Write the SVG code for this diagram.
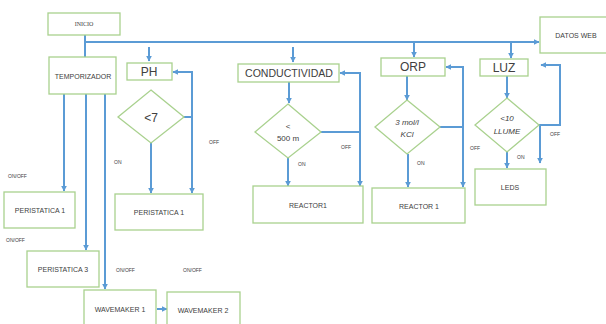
<svg xmlns="http://www.w3.org/2000/svg" width="606" height="324" viewBox="0 0 606 324">
<style>
.box{fill:#fff;stroke:#a9d18e;stroke-width:1.3}
.c{fill:none;stroke:#5b9bd5;stroke-width:2}
.t{font-family:"Liberation Sans",Arial,sans-serif;fill:#404040;text-anchor:middle;dominant-baseline:central}
.s{font-size:7px}
.l{font-size:12px}
.lab{font-family:"Liberation Sans",Arial,sans-serif;fill:#404040;font-size:5px;dominant-baseline:central}
.i{font-style:italic}
</style>
<defs>
<marker id="a" viewBox="0 0 10 10" refX="9" refY="5" markerWidth="3" markerHeight="3" orient="auto" markerUnits="strokeWidth">
<path d="M0,0L10,5L0,10z" fill="#5b9bd5"/>
</marker>
</defs>
<rect width="606" height="324" fill="#fff"/>
<g id="connectors">
<path class="c" d="M85,35V57M85,42H539" marker-end="url(#a)"/>
<path class="c" d="M149,47V61" marker-end="url(#a)"/>
<path class="c" d="M293,47V62" marker-end="url(#a)"/>
<path class="c" d="M414,42V57" marker-end="url(#a)"/>
<path class="c" d="M511,42V58" marker-end="url(#a)"/>
<path class="c" d="M64,94V191" marker-end="url(#a)"/>
<path class="c" d="M86,94V250" marker-end="url(#a)"/>
<path class="c" d="M105,94V289" marker-end="url(#a)"/>
<path class="c" d="M157,309H167" marker-end="url(#a)"/>
<path class="c" d="M151,143V193" marker-end="url(#a)"/>
<path class="c" d="M184,117H192" />
<path class="c" d="M192,193V72H173" marker-end="url(#a)"/>
<path class="c" d="M192,118V193" marker-end="url(#a)"/>
<path class="c" d="M289,82V103" marker-end="url(#a)"/>
<path class="c" d="M288,158V186" marker-end="url(#a)"/>
<path class="c" d="M321,132H360"/>
<path class="c" d="M360,186V73H340" marker-end="url(#a)"/>
<path class="c" d="M360,130V186" marker-end="url(#a)"/>
<path class="c" d="M407,76V100" marker-end="url(#a)"/>
<path class="c" d="M408,154V187" marker-end="url(#a)"/>
<path class="c" d="M440,127H463"/>
<path class="c" d="M463,187V67H446" marker-end="url(#a)"/>
<path class="c" d="M463,125V187" marker-end="url(#a)"/>
<path class="c" d="M507,76V98" marker-end="url(#a)"/>
<path class="c" d="M507,152V168" marker-end="url(#a)"/>
<path class="c" d="M539,125H560V65H541" marker-end="url(#a)"/>
<path class="c" d="M540,125V163" marker-end="url(#a)"/>
</g>
<g id="inicio"><rect class="box" x="48" y="13" width="72" height="22"/><text class="t" x="84" y="24" style="font-family:'Liberation Serif',serif;font-size:6px">INICIO</text></g>
<g id="datosweb"><rect class="box" x="540" y="17" width="70" height="36"/><text class="t s" x="576" y="35">DATOS WEB</text></g>
<g id="temporizador"><rect class="box" x="49" y="57" width="67" height="37"/><text class="t s" x="83" y="76">TEMPORIZADOR</text></g>
<g id="ph"><rect class="box" x="127" y="63" width="45" height="17"/><text class="t l" x="149" y="72">PH</text></g>
<g id="d-ph"><path class="box" d="M151,90L184,117L151,143L118,117Z"/><text class="t l" x="151" y="118">&lt;7</text></g>
<g id="peri1b"><rect class="box" x="115" y="194" width="88" height="36"/><text class="t s" x="159" y="212">PERISTATICA 1</text></g>
<g id="peri1a"><rect class="box" x="4" y="192" width="71" height="36"/><text class="t s" x="40" y="210">PERISTATICA 1</text></g>
<g id="peri3"><rect class="box" x="27" y="251" width="72" height="36"/><text class="t s" x="63" y="269">PERISTATICA 3</text></g>
<g id="wave1"><rect class="box" x="84" y="290" width="72" height="40"/><text class="t s" x="120" y="309">WAVEMAKER 1</text></g>
<g id="wave2"><rect class="box" x="167" y="292" width="73" height="38"/><text class="t s" x="203" y="310">WAVEMAKER 2</text></g>
<g id="cond"><rect class="box" x="238" y="64" width="101" height="18"/><text class="t" x="289" y="73" style="font-size:11.5px" textLength="88" lengthAdjust="spacingAndGlyphs">CONDUCTIVIDAD</text></g>
<g id="d-cond"><path class="box" d="M288,104L321,132L288,158L255,132Z"/><text class="t" x="288" y="126" style="font-size:8px">&lt;</text><text class="t" x="288" y="138" style="font-size:8px">500 m</text></g>
<g id="reactor1a"><rect class="box" x="253" y="186" width="110" height="37"/><text class="t s" x="308" y="205">REACTOR1</text></g>
<g id="orp"><rect class="box" x="381" y="58" width="64" height="18"/><text class="t l" x="413" y="67">ORP</text></g>
<g id="d-orp"><path class="box" d="M407,100L440,127L407,154L375,127Z"/><text class="t i" x="407" y="122" style="font-size:8px">3 mol/l</text><text class="t i" x="407" y="134" style="font-size:8px">KCl</text></g>
<g id="reactor1b"><rect class="box" x="372" y="188" width="93" height="35"/><text class="t s" x="419" y="206">REACTOR 1</text></g>
<g id="luz"><rect class="box" x="480" y="59" width="48" height="17"/><text class="t l" x="504" y="68">LUZ</text></g>
<g id="d-luz"><path class="box" d="M507,98L539,125L507,152L475,125Z"/><text class="t i" x="507" y="118" style="font-size:8px">&lt;10</text><text class="t i" x="507" y="131" style="font-size:8px">LLUME</text></g>
<g id="leds"><rect class="box" x="475" y="169" width="71" height="36"/><text class="t s" x="510" y="187">LEDS</text></g>
<g id="labels">
<text class="lab" x="8" y="176">ON/OFF</text>
<text class="lab" x="6" y="240">ON/OFF</text>
<text class="lab" x="116" y="270">ON/OFF</text>
<text class="lab" x="183" y="270">ON/OFF</text>
<text class="lab" x="114" y="162">ON</text>
<text class="lab" x="209" y="142">OFF</text>
<text class="lab" x="298" y="164">ON</text>
<text class="lab" x="341" y="147">OFF</text>
<text class="lab" x="417" y="163">ON</text>
<text class="lab" x="470" y="148">OFF</text>
<text class="lab" x="517" y="157">ON</text>
<text class="lab" x="550" y="134">OFF</text>
</g>
</svg>
